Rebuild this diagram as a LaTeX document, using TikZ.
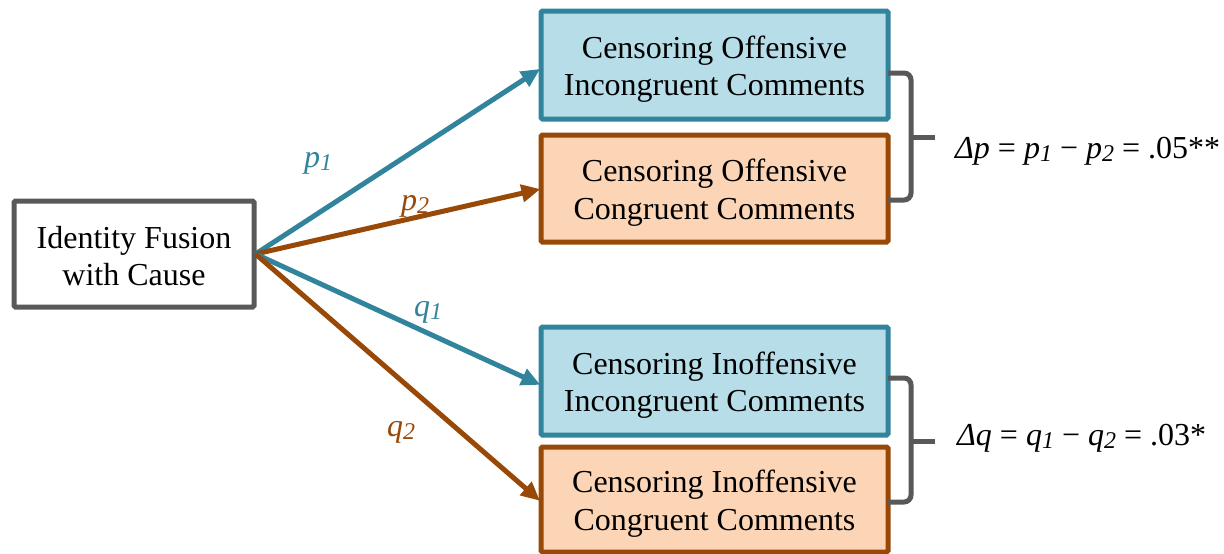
\documentclass[tikz,border=0pt]{standalone}
\usepackage{fontspec}
\setmainfont{Liberation Serif}
\usetikzlibrary{arrows.meta}
\definecolor{teal1}{HTML}{31849B}
\definecolor{brown1}{HTML}{984807}
\definecolor{lblue}{HTML}{B7DEE8}
\definecolor{peach}{HTML}{FBD5B5}
\definecolor{gray1}{HTML}{595959}
\newcommand\mysub[1]{\raisebox{-3pt}{\fontsize{24}{24}\selectfont\textit{#1}}}
\tikzset{
  box/.style={draw, line width=5pt, rounded corners=1.5pt, minimum width=347pt, inner sep=0pt},
  bluebox/.style={box, draw=teal1, fill=lblue},
  peachbox/.style={box, draw=brown1, fill=peach},
  txt/.style={align=center, font=\fontsize{32}{37.5}\selectfont, inner sep=0pt},
  arr/.style={line width=5pt, -{Triangle[length=19pt,width=17pt]}, shorten >=-2pt},
  brace/.style={draw=gray1, line width=5pt, rounded corners=7pt},
  lbl/.style={font=\fontsize{32}{32}\selectfont\itshape, inner sep=0pt},
  eq/.style={font=\fontsize{32}{32}\selectfont, inner sep=0pt, anchor=west}
}
\begin{document}
\begin{tikzpicture}[x=1pt,y=-1pt]
\useasboundingbox (0,0) rectangle (1224,554);
\node[box, draw=gray1, fill=white, minimum width=240pt, minimum height=106pt] (L) at (134,254) {};
\node[txt] (Lt) at ([yshift=-2pt]L.center) {Identity Fusion\\with Cause};
\node[bluebox, minimum height=108pt] (b1) at (714.5,65) {};
\node[txt] (b1t) at ([yshift=-4pt]b1.center) {Censoring Offensive\\Incongruent Comments};
\node[peachbox, minimum height=107pt] (b2) at (714.5,188.5) {};
\node[txt] (b2t) at ([yshift=-4pt]b2.center) {Censoring Offensive\\Congruent Comments};
\node[bluebox, minimum height=108pt] (b3) at (714.5,381) {};
\node[txt] (b3t) at ([yshift=-4pt]b3.center) {Censoring Inoffensive\\Incongruent Comments};
\node[peachbox, minimum height=105pt] (b4) at (714.5,499.5) {};
\node[txt] (b4t) at ([yshift=-4pt]b4.center) {Censoring Inoffensive\\Congruent Comments};
\coordinate (s) at ([xshift=-1pt]L.east);
\draw[arr, teal1] (s) -- ([yshift=-5pt]b1.west);
\draw[arr, brown1] (s) -- ([yshift=-1pt]b2.west);
\draw[arr, teal1] (s) -- ([yshift=-3pt]b3.west);
\draw[arr, brown1] (s) -- ([yshift=0pt]b4.west);
\node[lbl, text=teal1] (lp1) at (318,163) {p\mysub{1}};
\node[lbl, text=brown1] (lp2) at (415,206) {p\mysub{2}};
\node[lbl, text=teal1] (lq1) at (428,312) {q\mysub{1}};
\node[lbl, text=brown1] (lq2) at (401,432) {q\mysub{2}};
% braces
\coordinate (t1) at (888,73);
\coordinate (m1) at (935,137);
\coordinate (e1) at (888,200);
\draw[brace] (t1) -- (911,73) -- (911,200) -- (e1);
\draw[brace] (911,137) -- (m1);
\coordinate (t2) at (888,378);
\coordinate (m2) at (935,441);
\coordinate (e2) at (888,502);
\draw[brace] (t2) -- (911,378) -- (911,502) -- (e2);
\draw[brace] (911,441) -- (m2);
\node[eq] (eqp) at (955,151) {\textit{Δp} = \textit{p}\mysub{1} − \textit{p}\mysub{2} = .05**};
\node[eq] (eqq) at (957,438) {\textit{Δq} = \textit{q}\mysub{1} − \textit{q}\mysub{2} = .03*};
\end{tikzpicture}
\end{document}
